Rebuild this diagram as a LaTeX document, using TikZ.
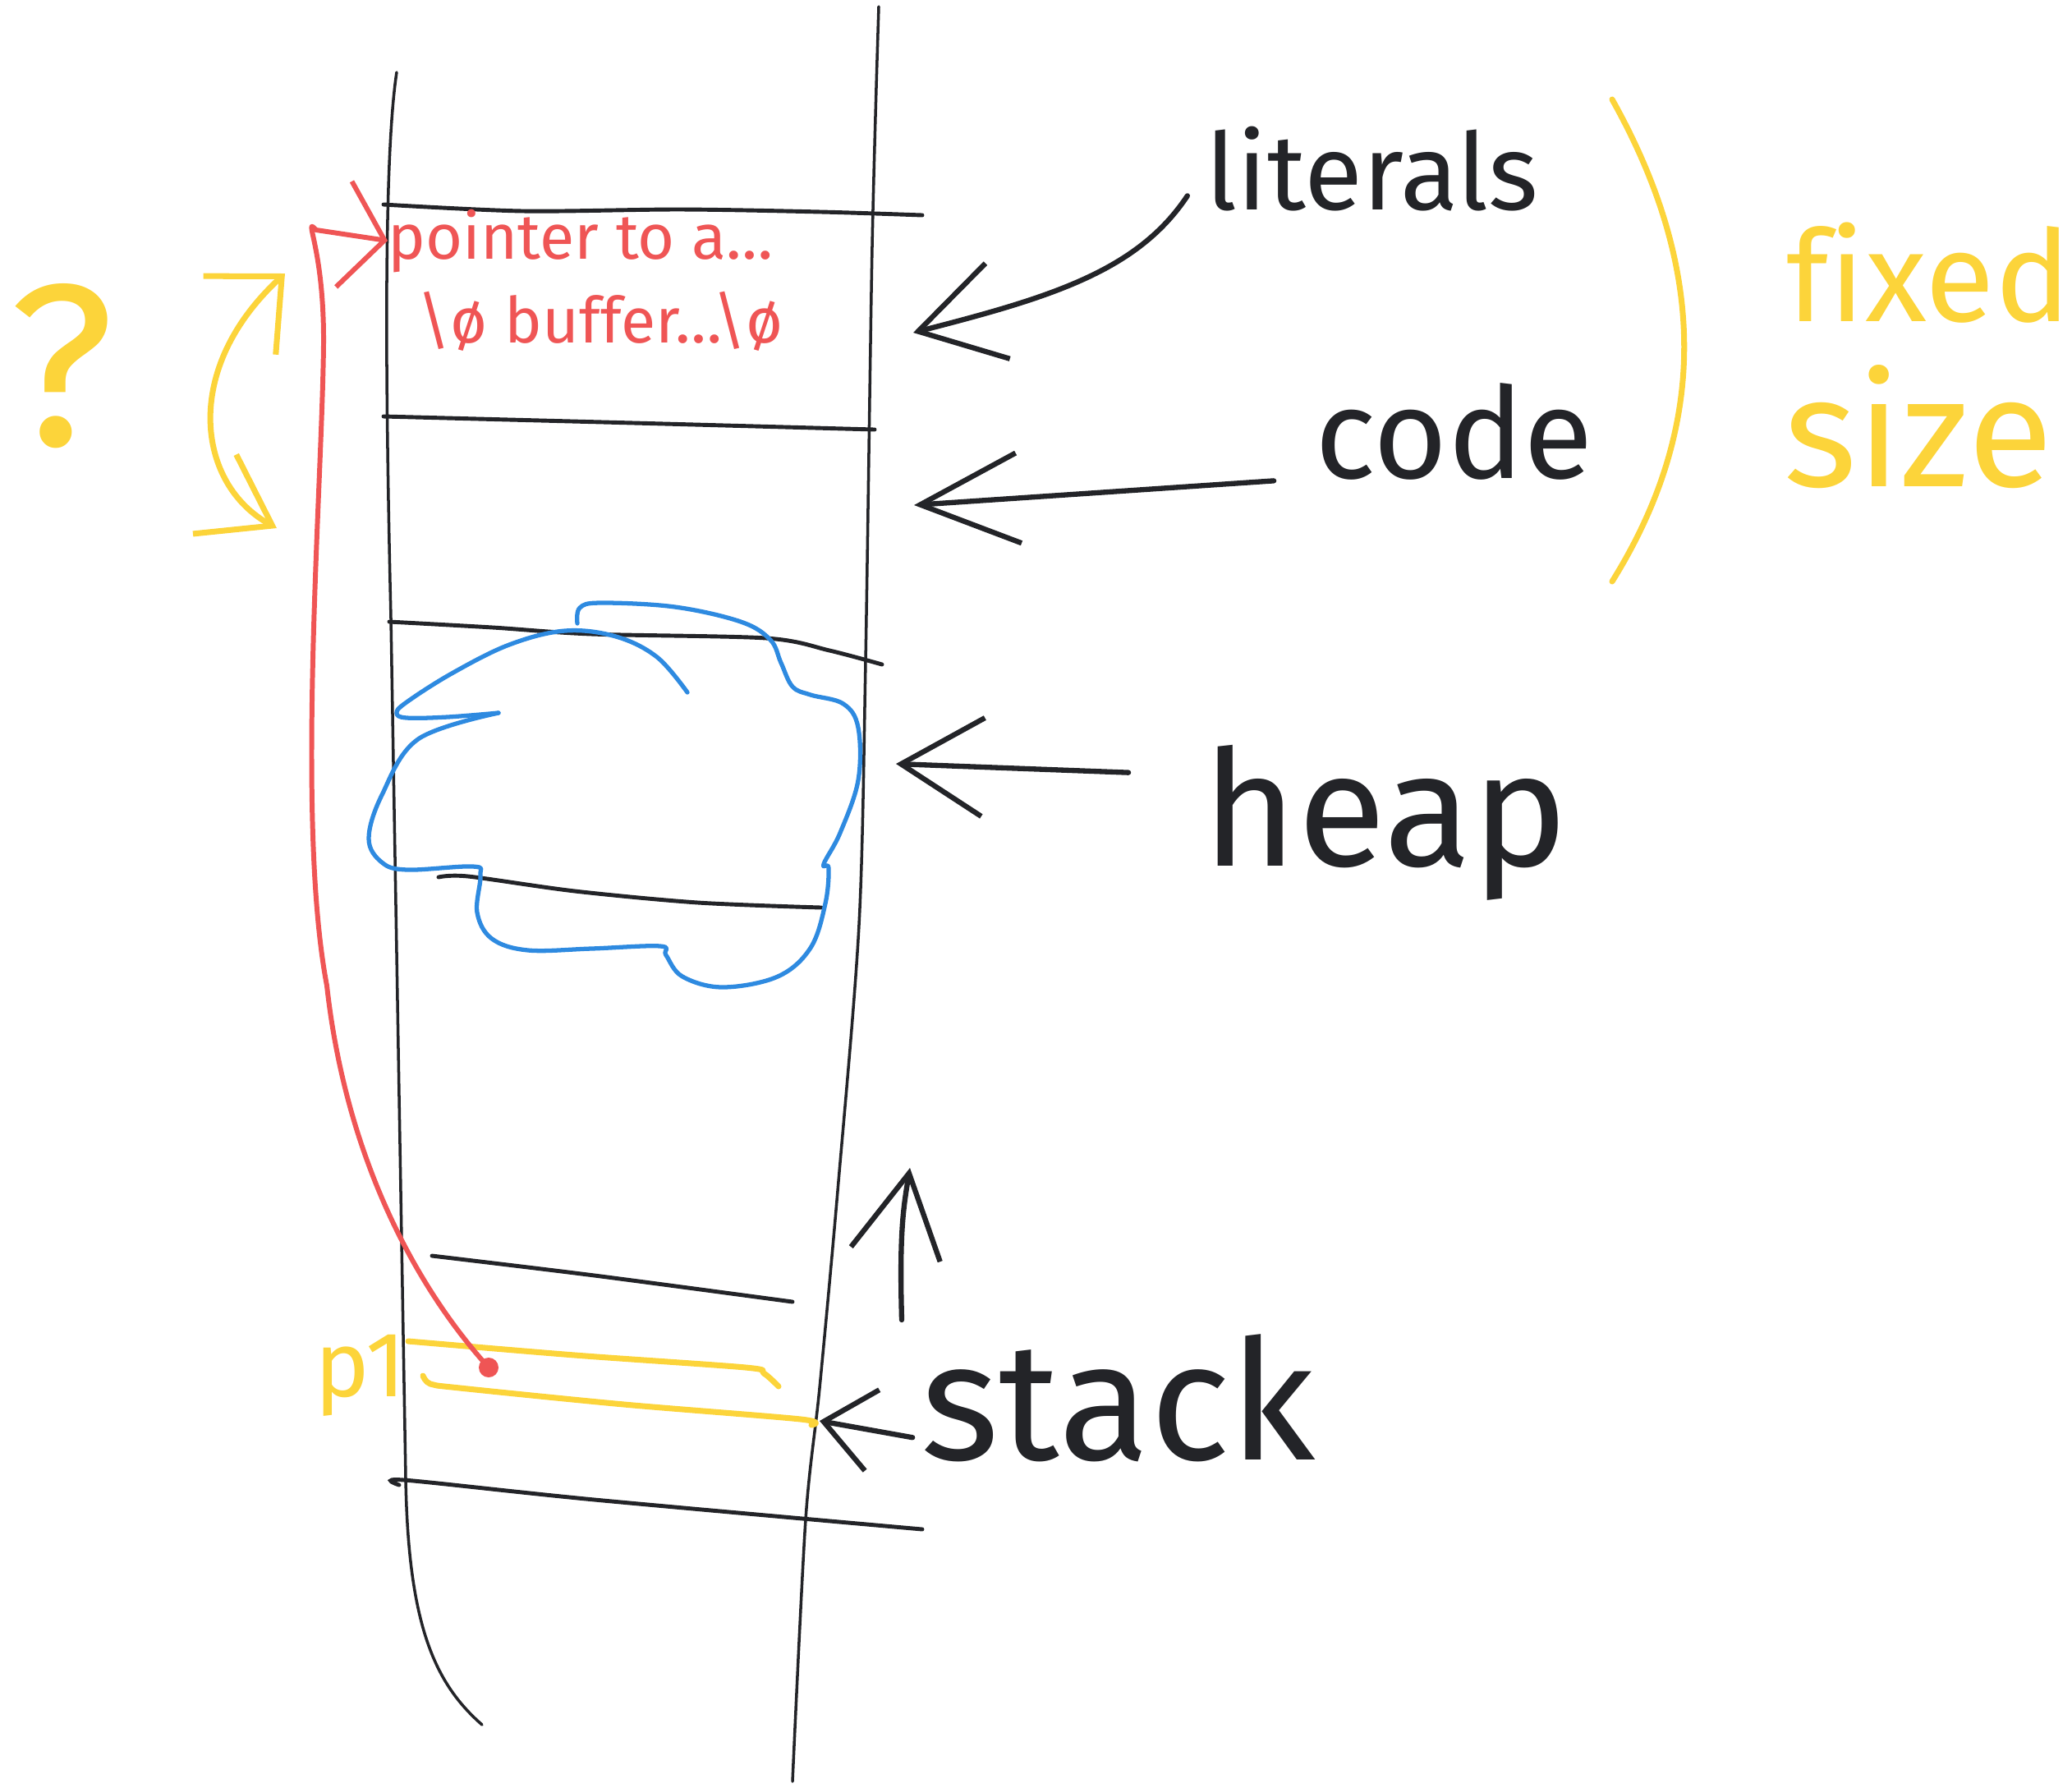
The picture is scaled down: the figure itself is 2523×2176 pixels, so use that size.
\documentclass[tikz,border=0pt]{standalone}
\usepackage{fontspec}
\setmainfont{Fira Sans}[Ligatures=NoCommon]
\usepackage{tikz}
\usetikzlibrary{arrows.meta,positioning}
\definecolor{inkblack}{HTML}{232428}
\definecolor{inkred}{HTML}{EF5555}
\definecolor{inkblue}{HTML}{2E8AE0}
\definecolor{inkyellow}{HTML}{FCD43A}
\tikzset{%
  bigbarb/.tip = {Straight Barb[length=10mm, width=12mm]},
  smallbarb/.tip = {Straight Barb[length=6mm, width=10mm]}}

\begin{document}
\begin{tikzpicture}[x=0.1mm, y=-0.1mm,
wall/.style={draw=inkblack, line width=1pt, line cap=round},
slot/.style={draw=inkblack, line width=1.4pt, line cap=round},
blackpen/.style={draw=inkblack, line width=1.8pt, line cap=round, line join=round},
redpen/.style={draw=inkred, line width=1.7pt, line cap=round, line join=round},
bluepen/.style={draw=inkblue, line width=1.5pt, line cap=round, line join=round},
yellowpen/.style={draw=inkyellow, line width=2pt, line cap=round, line join=round},
handtext/.style={inner sep=0pt, anchor=base west, text=inkblack},
]

\useasboundingbox (0,0) rectangle (2523,2176);

% memory column
\draw[wall] (483,88) .. controls (466,200) and (470,500) .. (476,753) -- (494,1800) .. controls (497,1980) and (530,2050) .. (587,2100);
\draw[wall] plot[smooth] coordinates {(1070,8) (1062,300) (1054,805) (1046,1126) (1020,1450) (998,1690) (981,1850) (965,2169)};

\draw[slot] plot[smooth] coordinates {(467,249) (637,257) (828,255) (1000,258) (1123,262)};
\draw[slot] plot[smooth] coordinates {(467,507) (772,515) (1065,523)};
\draw[slot] plot[smooth] coordinates {(474,757) (600,764) (720,772) (933,777) (1010,792) (1074,809)};
\draw[slot] plot[smooth] coordinates {(534,1068) (570,1067) (700,1085) (850,1099) (1000,1105)};
\draw[slot] plot[smooth] coordinates {(526,1529) (724,1553) (965,1585)};
\draw[slot] plot[smooth] coordinates {(486,1808) (492,1802) (724,1826) (1123,1862)};

% heap blob
\draw[bluepen] plot[smooth, tension=0.6] coordinates {(837,843) (800,800) (750,775) (688,768) (620,785) (550,820) (495,855) (483,868) (495,874) (545,873) (607,868)};
\draw[bluepen] plot[smooth, tension=0.6] coordinates {(607,868) (509,900) (465,968) (449,1021) (465,1050) (496,1059) (576,1055) (585,1066) (581,1111) (599,1143) (643,1157) (720,1155) (804,1152) (811,1163) (831,1189) (880,1202) (947,1189) (987,1154) (1005,1100) (1009,1057) (1003,1052) (1023,1014) (1045,950) (1045,886) (1027,857) (987,846) (965,836) (951,807) (938,779) (902,757) (822,739) (732,734) (706,740) (703,759)};

% labels
\node[handtext, font=\fontsize{37}{40}\selectfont] (literals) at (1468,255) {literals};
\node[handtext, font=\fontsize{44}{48}\selectfont] (code) at (1601,582) {code};
\node[handtext, font=\fontsize{56}{60}\selectfont] (heap) at (1464,1054) {heap};
\node[handtext, font=\fontsize{58}{62}\selectfont] (stack) at (1121,1777) {stack};

\node[handtext, text=inkyellow, font=\fontsize{44}{48}\selectfont] (fixed) at (2175,391) {fixed};
\node[handtext, text=inkyellow, font=\fontsize{54}{58}\selectfont] (size) at (2172,592) {size};
\node[anchor=center, inner sep=0pt, text=inkyellow, font=\fontsize{80}{84}\selectfont] (qmark) at (75,446) {?};
\node[handtext, text=inkyellow, font=\fontsize{32}{36}\selectfont] (pone) at (383,1700) {p1};

\node[handtext, text=inkred, font=\fontsize{22}{24}\selectfont] (ptrline) at (472,315) {pointer to a\ldots};
\node[handtext, text=inkred, font=\fontsize{22}{24}\selectfont] (bufline) at (508,417) {\textbackslash ø buffer\ldots\textbackslash ø};

% arrow ends
\coordinate (littip) at (1112,405);
\coordinate (codetip) at (1113,615);
\coordinate (heaptip) at (1091,930);
\coordinate (stacktip) at (998,1730);
\coordinate (upfoot) at (1098,1607);
\coordinate (uptip) at (1108,1422);
\coordinate (ponedot) at (595,1665);
\coordinate (ytop) at (347,333);
\coordinate (ybot) at (337,643);
\coordinate (parentop) at (1963,121);
\coordinate (parenbot) at (1963,708);

\draw[blackpen, -bigbarb, shorten <=4mm] (literals.west) .. controls (1385,330) and (1280,362) .. (littip);
\draw[blackpen, -{Straight Barb[length=12mm, width=11mm]}, shorten <=5mm] (code.base west) -- (codetip);
\draw[blackpen, -bigbarb, shorten <=9mm] ([yshift=11mm]heap.base west) -- (heaptip);
\draw[blackpen, -smallbarb, shorten <=1mm] ([yshift=2.5mm]stack.base west) -- (stacktip);
\draw[blackpen, -{Straight Barb[length=10mm, width=11mm]}] (upfoot) .. controls (1095,1500) and (1100,1470) .. (uptip);

% fixed size part
\draw[yellowpen] (parentop) .. controls (2080,330) and (2080,520) .. (parenbot);
\draw[yellowpen, {Straight Barb[length=8mm, width=11mm]}-{Straight Barb[length=7mm, width=13mm]}] (ybot) .. controls (240,590) and (220,450) .. (ytop);

% p1 slot
\draw[yellowpen] plot[smooth] coordinates {(497,1633) (700,1650) (908,1665) (930,1672) (948,1688)};
\draw[yellowpen] plot[smooth] coordinates {(515,1675) (524,1685) (560,1690) (760,1710) (975,1728) (988,1735)};

% pointer
\fill[inkred] (ponedot) circle (1.2mm);
\draw[redpen, -{Straight Barb[length=5mm, width=13mm]}] (ponedot) .. controls (500,1560) and (420,1400) .. (398,1200) .. controls (360,1000) and (392,600) .. (394,420) .. controls (395,300) and (368,262) .. (385,280) -- (ptrline.west);

\end{tikzpicture}
\end{document}
